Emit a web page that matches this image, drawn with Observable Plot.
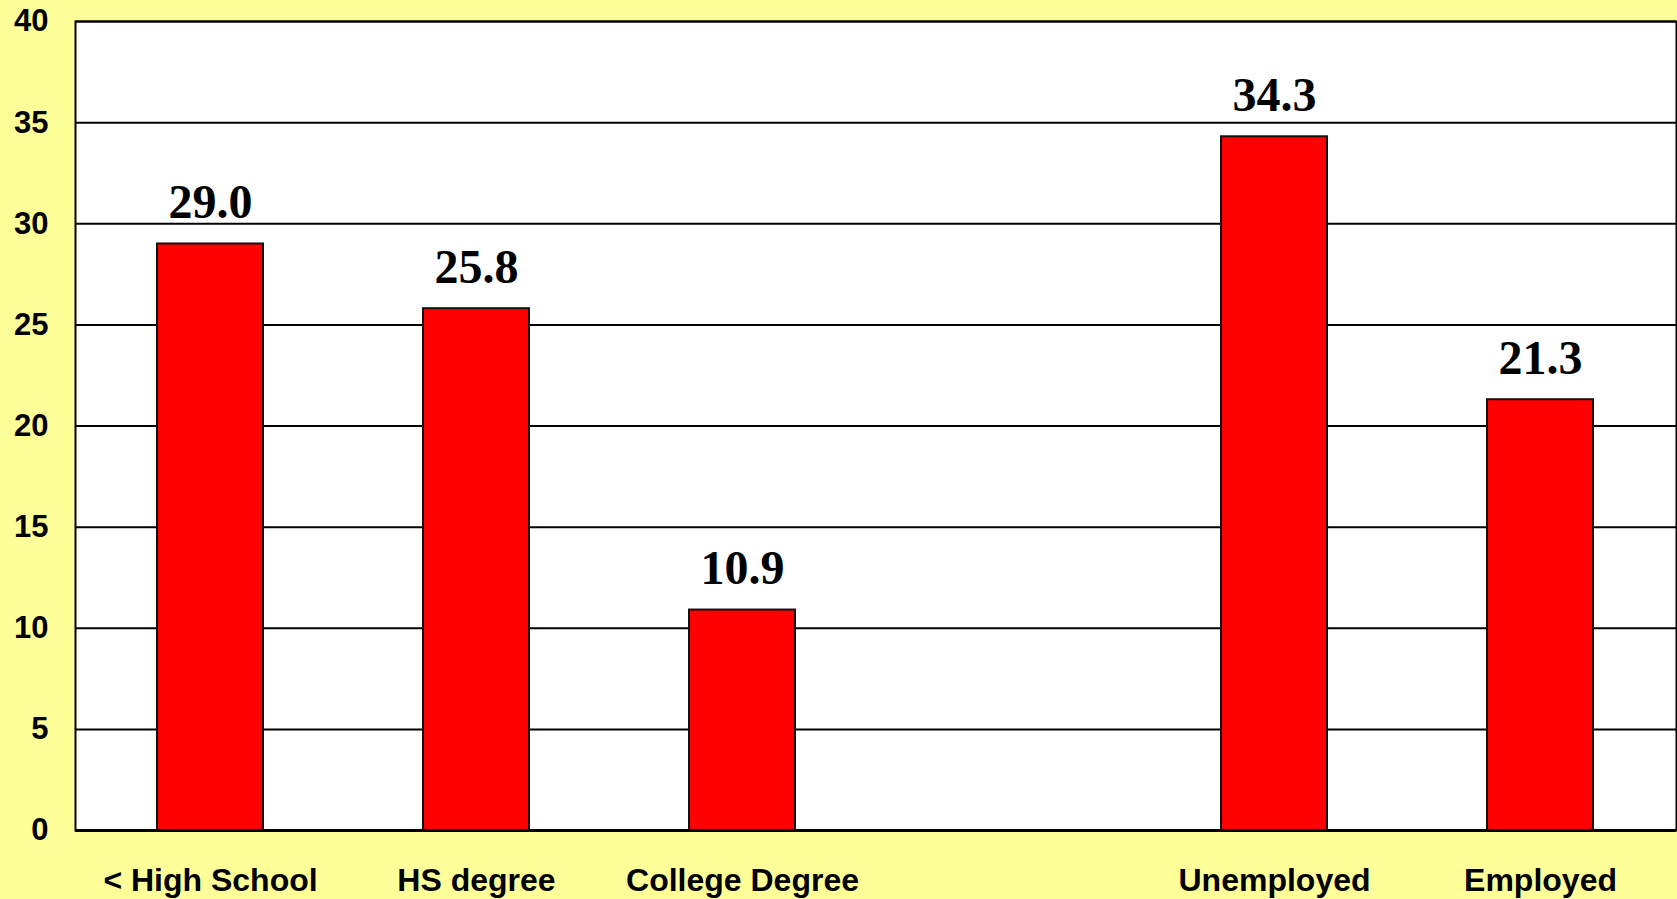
<!DOCTYPE html>
<html>
<head>
<meta charset="utf-8">
<script src="https://cdn.jsdelivr.net/npm/d3@7"></script>
<script src="https://cdn.jsdelivr.net/npm/@observablehq/plot@0.6"></script>
<style>
  html, body { margin: 0; padding: 0; background: #FFFF99; }
  #chart svg { display: block; }
</style>
</head>
<body>
<div id="chart"></div>
<script>
const categories = ["< High School", "HS degree", "College Degree", "Unemployed", "Employed"];
const values = [29.0, 25.8, 10.9, 34.3, 21.3];
const xSlots = ["< High School", "HS degree", "College Degree", " ", "Unemployed", "Employed"];
const yTicks = [0, 5, 10, 15, 20, 25, 30, 35, 40];

const data = categories.map((c, i) => ({category: c, value: values[i]}));

const chart = Plot.plot({
  width: 1677,
  height: 899,
  marginLeft: 75,
  marginRight: 1,
  marginTop: 21,
  marginBottom: 69,
  style: {background: "#FFFF99", color: "black"},
  x: {domain: xSlots, paddingInner: 0.6, paddingOuter: 0.3},
  y: {domain: [0, 40]},
  marks: [
    Plot.frame({fill: "white", stroke: "black", strokeWidth: 2}),
    Plot.ruleY(yTicks, {stroke: "black", strokeWidth: 2}),
    Plot.barY(data, {x: "category", y: "value", fill: "#FF0000", stroke: "#111", strokeWidth: 2}),
    Plot.text(data, {
      x: "category", y: "value", text: d => d.value.toFixed(1),
      lineAnchor: "bottom", dy: -26,
      fontFamily: "Liberation Serif, Times New Roman, serif",
      fontWeight: "bold", fontSize: 48, fill: "black"
    }),
    Plot.ruleY([0], {stroke: "black", strokeWidth: 3}),
    Plot.axisY({
      ticks: yTicks, tickSize: 0, tickPadding: 27, label: null,
      fontFamily: "Liberation Sans, Arial, sans-serif", fontWeight: "bold", fontSize: 31
    }),
    Plot.axisX({
      tickSize: 0, tickPadding: 38, label: null,
      fontFamily: "Liberation Sans, Arial, sans-serif", fontWeight: "bold", fontSize: 32
    })
  ]
});
document.getElementById("chart").appendChild(chart);
</script>
</body>
</html>
